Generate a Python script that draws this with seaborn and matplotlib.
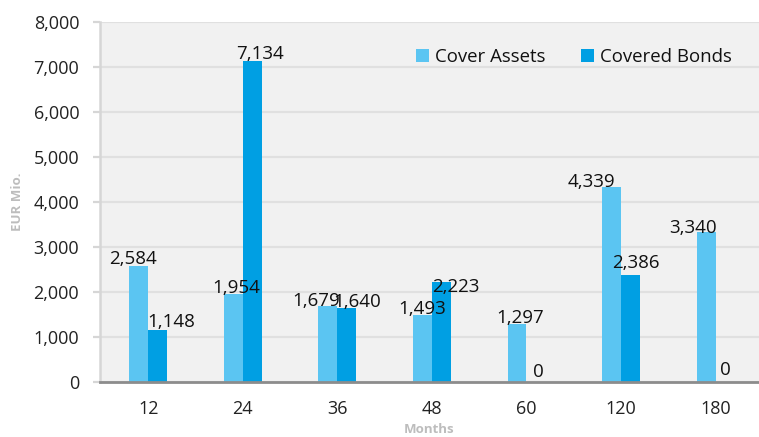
import matplotlib
matplotlib.use("Agg")
import matplotlib.pyplot as plt
import seaborn as sns
import pandas as pd
from matplotlib.ticker import FuncFormatter, MultipleLocator

months = ["12", "24", "36", "48", "60", "120", "180"]
cover_assets = [2584, 1954, 1679, 1493, 1297, 4339, 3340]
covered_bonds = [1148, 7134, 1640, 2223, 0, 2386, 0]
series_names = ["Cover Assets", "Covered Bonds"]

# label nudges in pixels (dx, dy) relative to bar top centre
nudge_light = [(-6, 2), (3, 1), (-12, 0), (0, 1), (3, 1), (-20, 0), (-13, -1)]
nudge_dark = [(14, 3), (8, 2), (10, 1), (14, -10), (3, 5), (5, 7), (0, 7)]

sns.set_style("white")
plt.rcParams["font.family"] = ["Open Sans", "DejaVu Sans"]

df = pd.DataFrame({
    "Months": months * 2,
    "value": cover_assets + covered_bonds,
    "series": [series_names[0]] * len(months) + [series_names[1]] * len(months),
})

fig = plt.figure(figsize=(7.59, 4.37), dpi=100)
ax = fig.add_axes([100 / 759, 1 - 382 / 437, 659 / 759, 360 / 437])
ax.set_facecolor("#F1F1F1")

sns.barplot(data=df, x="Months", y="value", hue="series",
            palette=["#5BC5F2", "#009FE3"], saturation=1, width=0.4, gap=0,
            order=months, hue_order=series_names, ax=ax, zorder=3,
            edgecolor="none", linewidth=0)

ax.set_ylim(0, 8000)
ax.set_xlim(-0.51, 6.46)
ax.yaxis.set_major_locator(MultipleLocator(1000))
ax.yaxis.set_major_formatter(FuncFormatter(lambda v, p: f"{int(v):,}"))
ax.grid(axis="y", color="#E0E0E0", linewidth=1.6, zorder=0)
ax.set_axisbelow(True)

for s in ["top", "right"]:
    ax.spines[s].set_visible(False)
ax.spines["left"].set_color("#D6D6D6")
ax.spines["left"].set_linewidth(1.8)
ax.spines["bottom"].set_color("#8C8C8C")
ax.spines["bottom"].set_linewidth(2)
ax.spines["bottom"].set_zorder(5)

ax.tick_params(axis="y", length=5, width=1.6, color="#D6D6D6", pad=10,
               labelsize=13, labelcolor="#222222", left=True)
ax.tick_params(axis="x", length=0, pad=13, labelsize=13, labelcolor="#222222")

ax.set_xlabel("Months", fontsize=9.5, fontweight="bold", color="#BDBDBD")
ax.set_ylabel("EUR Mio.", fontsize=9.5, fontweight="bold", color="#BDBDBD")
ax.xaxis.set_label_coords(0.5, -0.113)
ax.yaxis.set_label_coords(-0.115, 0.5)

px = 0.72
for cont, vals, nudges in zip(ax.containers, [cover_assets, covered_bonds],
                              [nudge_light, nudge_dark]):
    for bar, v, (dx, dy) in zip(cont, vals, nudges):
        xc = bar.get_x() + bar.get_width() / 2
        ax.annotate(f"{v:,}", (xc, bar.get_height()),
                    xytext=(dx * px, dy * px), textcoords="offset points",
                    ha="center", va="baseline", fontsize=13.5,
                    color="#111111", zorder=6)

leg = ax.legend(loc="upper right", bbox_to_anchor=(0.985, 0.975), frameon=False,
                ncol=2, fontsize=13.4, handlelength=0.7, handleheight=0.7,
                handletextpad=0.35, columnspacing=1.9, borderaxespad=0.5)
for t in leg.get_texts():
    t.set_color("#111111")

fig.savefig("out.png", dpi=100)
